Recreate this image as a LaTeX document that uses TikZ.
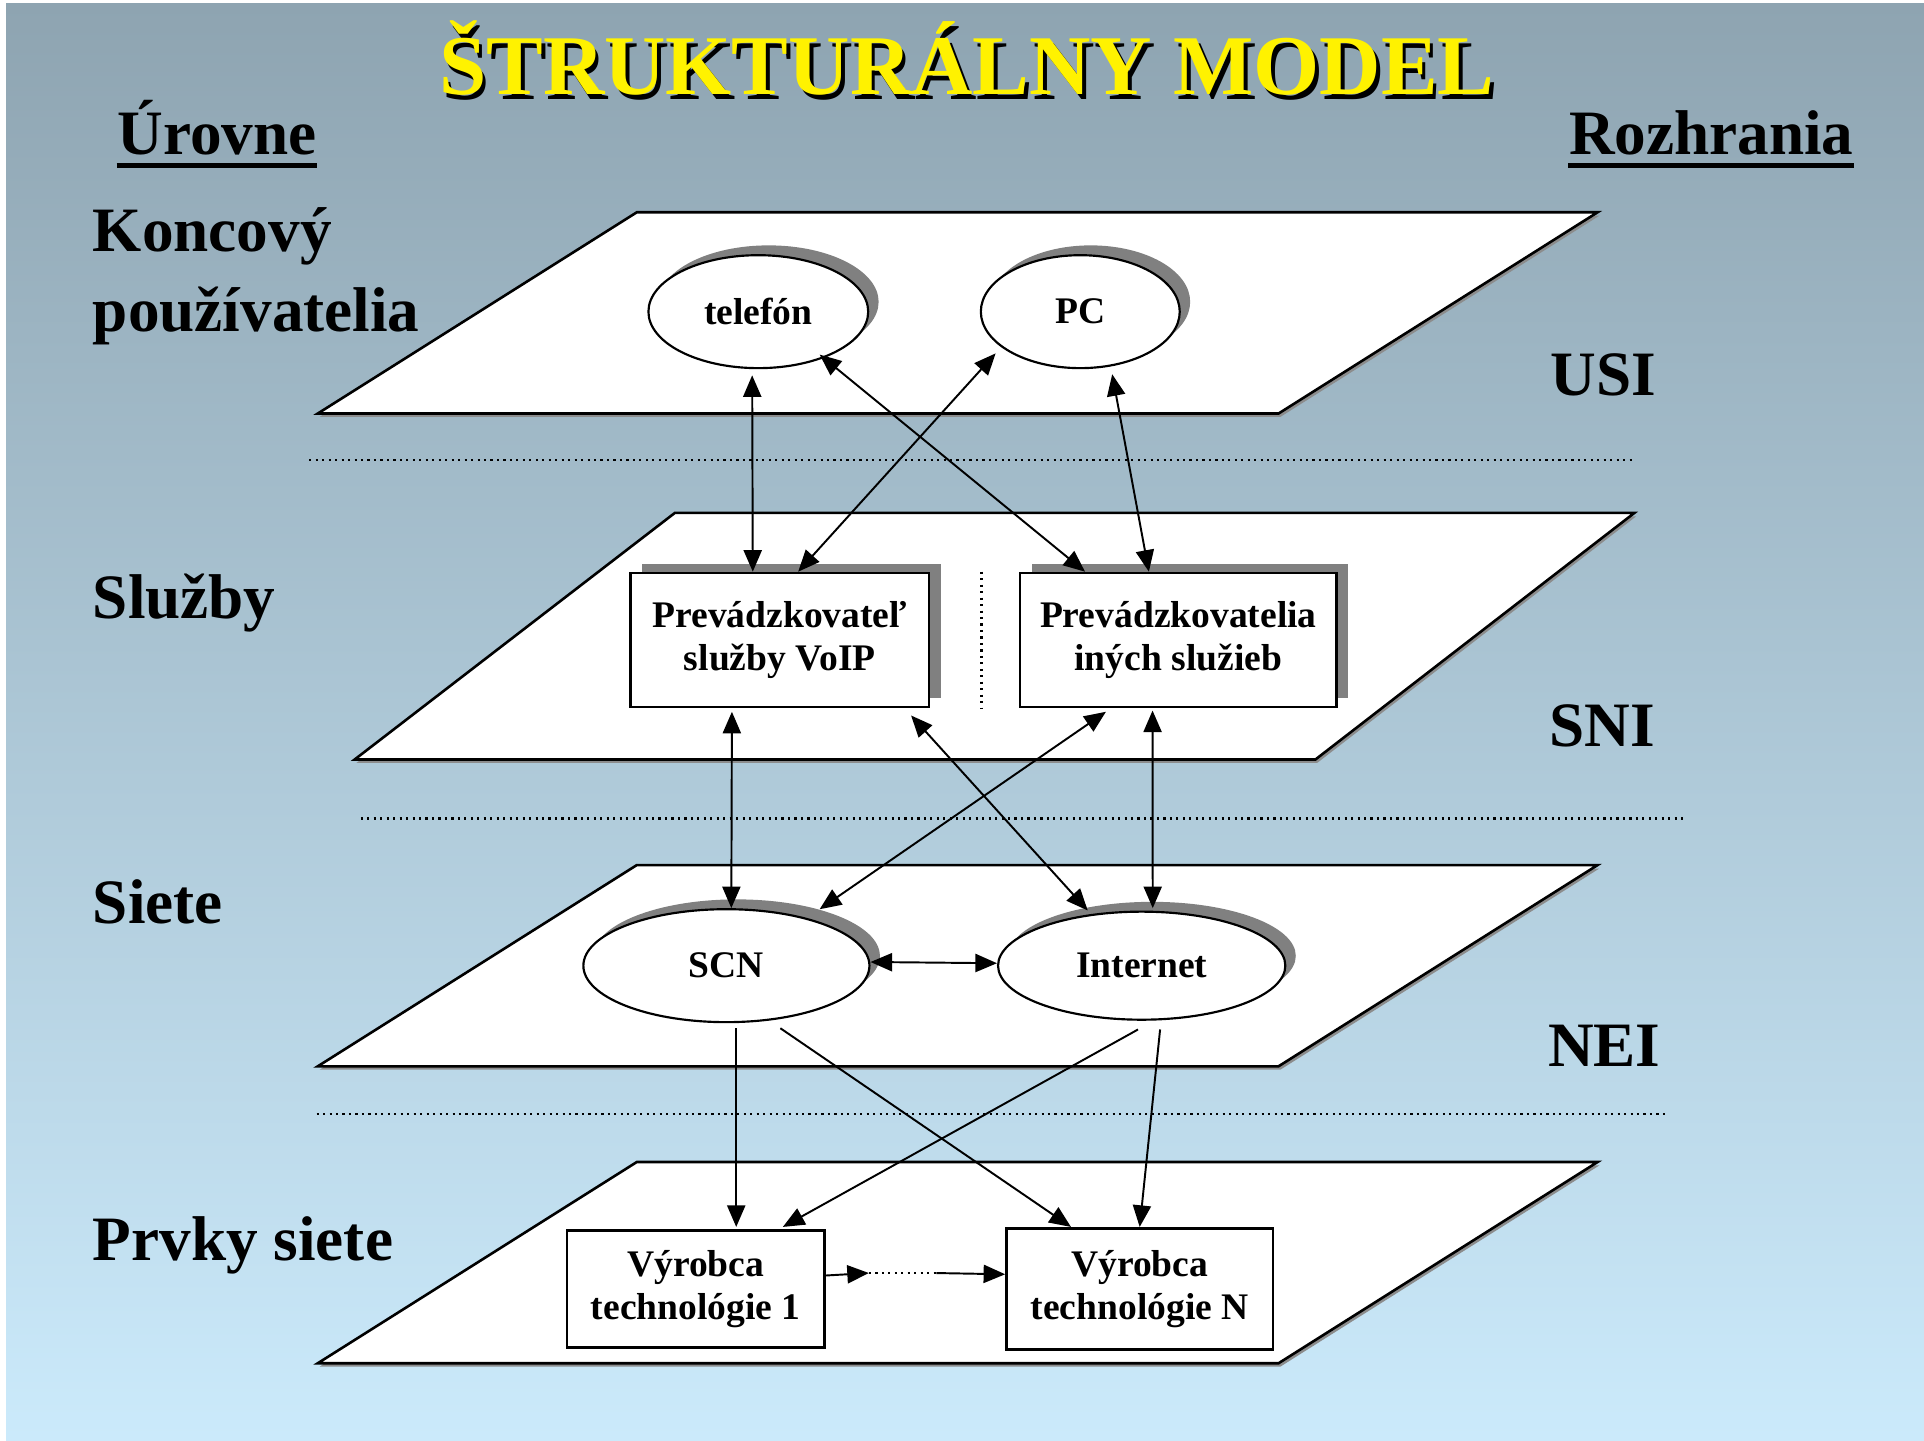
\documentclass[tikz,border=0pt]{standalone}
\usepackage{fontspec}
\setmainfont{Liberation Serif}
\usepackage{tikz}
\usetikzlibrary{positioning,calc,arrows.meta,shapes.geometric,shadows}
\definecolor{bgtop}{RGB}{142,164,177}
\definecolor{bgbot}{RGB}{203,234,251}
\newcommand{\ttlfont}{\fontsize{19.7pt}{22pt}\selectfont\bfseries}
\newcommand{\lvlfont}{\fontsize{14.65pt}{18.5pt}\selectfont\bfseries}
\newcommand{\nfont}{\fontsize{8.7pt}{10.1pt}\selectfont\bfseries}
\tikzset{plane/.style={draw,fill=white,line width=0.6pt,
           drop shadow={shadow xshift=0.4pt,shadow yshift=-0.8pt,fill=black!45,opacity=1}},
	 ovl/.style={ellipse,draw,fill=white,line width=0.5pt,minimum height=0.92cm,inner sep=0pt,font=\nfont,
           drop shadow={shadow xshift=0.085cm,shadow yshift=0.08cm,fill=black!50,opacity=1}},
	 prov/.style={rectangle,draw,fill=white,line width=0.6pt,align=center,font=\nfont,minimum height=1.09cm,
           drop shadow={shadow xshift=0.095cm,shadow yshift=0.07cm,fill=black!50,opacity=1}},
	 maker/.style={rectangle,draw,fill=white,line width=0.6pt,align=center,font=\nfont},
	 lvl/.style={anchor=base west,inner sep=0pt,font=\lvlfont,align=left},
	 uline/.style={line width=1.2pt},
	 sep/.style={densely dotted,line width=0.5pt},
	 bothway/.style={{Triangle[length=5pt,width=4.2pt]}-{Triangle[length=5pt,width=4.2pt]},line width=0.45pt},
	 oneway/.style={-{Triangle[length=5pt,width=4.2pt]},line width=0.45pt},
	 node distance = 1cm
	 }

\begin{document}
\begin{tikzpicture}[x=0.01cm,y=-0.01cm] % structural model
        \useasboundingbox (0,0) rectangle (1568,1173.6);
        \fill[white] (0,0) rectangle (1568,1173.6);
        \shade[top color=bgtop,bottom color=bgbot] (5,3) rectangle (1568,1173.6);
        \node[font=\ttlfont,text=black,anchor=base] (titsh) at (791,81) {ŠTRUKTURÁLNY MODEL};
        \node[font=\ttlfont,text=yellow,anchor=base] (title) at (788,77) {ŠTRUKTURÁLNY MODEL};
        \node[lvl] (urov) at (95,126) {Úrovne};
        \node[lvl] (rozh) at (1278,126) {Rozhrania};
        \draw[uline] ([yshift=-0.09cm]urov.base west) -- ([yshift=-0.09cm]urov.base east);
        \draw[uline] ([yshift=-0.09cm]rozh.base west) -- ([yshift=-0.09cm]rozh.base east);
        \node[lvl] (kon) at (75,270) {Koncový\\používatelia};
        \node[lvl] (slu) at (75,504) {Služby};
        \node[lvl] (sie) at (75,753) {Siete};
        \node[lvl] (prv) at (75,1027) {Prvky siete};
        \node[lvl] (usi) at (1263,322) {USI};
        \node[lvl] (sni) at (1262,608.5) {SNI};
        \node[lvl] (nei) at (1261,869) {NEI};
        % layers
        \foreach \t in {173,705,947}
          \draw[plane] (519,\t) -- ++(783,0) -- ++(-260,164) -- ++(-783,0) -- cycle;
        \draw[plane] (550,418) -- ++(782,0) -- ++(-260,201) -- ++(-783,0) -- cycle;
        \draw[sep] (252,375) -- (1332,375);
        \draw[sep] (294,667) -- (1374,667);
        \draw[sep] (258,908) -- (1358,908);
        % nodes
        \node[ovl,minimum width=1.79cm] (tel) at (618,254) {telefón};
        \node[ovl,minimum width=1.62cm] (pc) [right=0.9cm of tel] {PC};
        \node[prov,minimum width=2.43cm] (voip) at (635.5,521.5) {Prevádzkovateľ\\služby VoIP};
        \node[prov,minimum width=2.58cm] (oth) [right=0.72cm of voip] {Prevádzkovatelia\\iných služieb};
        \node[ovl,minimum width=2.33cm] (scn) at (592,787) {SCN};
        \node[ovl,minimum width=2.34cm,minimum height=0.88cm] (inet) [right=1.03cm of scn] {Internet};
        \node[maker,minimum width=2.1cm,minimum height=0.95cm] (v1) at (567,1050.5) {Výrobca\\technológie 1};
        \node[maker,minimum width=2.17cm,minimum height=0.99cm] (vn) [right=1.46cm of v1] {Výrobca\\technológie N};
        \draw[sep] ($(voip.north east)!0.58!(oth.north west)$) -- ($(voip.south east)!0.58!(oth.south west)$);
        % links
        \draw[bothway] ($(tel.south)+(-5,5)$) -- ($(voip.north)+(-22,0)$);
        \draw[bothway] ($(pc.center)+(-69,34)$) -- ($(voip.north)+(15,0)$);
        \draw[bothway] ($(tel.center)+(50,35)$) -- ($(oth.north)+(-76,0)$);
        \draw[bothway] ($(pc.center)+(26,51)$) -- ($(oth.north)+(-24,0)$);
        \draw[bothway] ($(voip.south)+(-39,3)$) -- ($(scn.north)+(4,0)$);
        \draw[bothway] ($(voip.south)+(107,6)$) -- ($(inet.center)+(-44,-45)$);
        \draw[bothway] ($(oth.south)+(-59,3)$) -- ($(scn.center)+(76,-46)$);
        \draw[bothway] ($(oth.south)+(-21,2)$) -- ($(inet.north)+(9,-2)$);
        \draw[bothway] ($(scn.east)+(0,-3)$) -- ($(inet.west)+(0,-2)$);
        \draw[oneway] ($(scn.center)+(8,51)$) -- ($(v1.north)+(33,-2)$);
        \draw[oneway] ($(scn.center)+(44,51)$) -- ($(vn.north)+(-56,0)$);
        \draw[oneway] ($(inet.center)+(-3,52)$) -- ($(v1.north)+(71,-2)$);
        \draw[oneway] ($(inet.center)+(15,52)$) -- (vn.north);
        \draw[oneway] ($(v1.east)+(0,-11)$) -- ++(35,-2) coordinate (gap1);
        \draw[sep] (gap1) -- ++(55,0) coordinate (gap2);
        \draw[oneway] (gap2) -- ($(vn.west)+(0,-12)$);
     \end{tikzpicture}
\end{document}
